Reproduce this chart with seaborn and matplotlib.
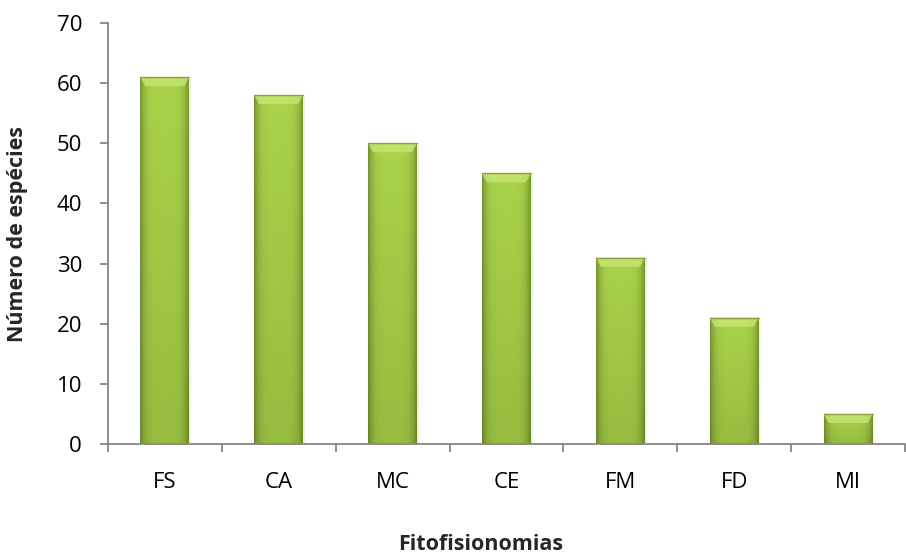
import numpy as np
import pandas as pd
import matplotlib
matplotlib.use("Agg")
import matplotlib.pyplot as plt
from matplotlib.patches import Polygon
from matplotlib.colors import LinearSegmentedColormap
import seaborn as sns

categorias = ["FS", "CA", "MC", "CE", "FM", "FD", "MI"]
especies = [61, 58, 50, 45, 31, 21, 5]
y_ticks = [0, 10, 20, 30, 40, 50, 60, 70]

df = pd.DataFrame({"Fitofisionomias": categorias, "Especies": especies})

sns.set_theme(style="white")
plt.rcParams["font.family"] = ["Open Sans", "DejaVu Sans"]

fig = plt.figure(figsize=(9.06, 5.54), dpi=100)
ax = fig.add_axes([0.119, 0.1986, 0.880, 0.760])

sns.barplot(data=df, x="Fitofisionomias", y="Especies", ax=ax,
            color="#9AC43E", width=0.43, saturation=1, edgecolor="none")

# gradient fill: slightly darker at the sides and bottom, lighter near the top
h = np.linspace(0, 1, 64)
side = 1 - 0.28 * (np.abs(h - 0.5) * 2) ** 5
vert = np.linspace(0.90, 1.0, 64)[:, None]
shade = vert * side[None, :]
cmap = LinearSegmentedColormap.from_list("verde", ["#56701E", "#A9D24A"])

for p in list(ax.patches):
    x0, y0 = p.get_x(), p.get_y()
    w, hgt = p.get_width(), p.get_height()
    # soft shadow to the right
    ax.add_patch(plt.Rectangle((x0 + 0.015, y0), w, hgt, color="#000000",
                               alpha=0.07, zorder=1.5, lw=0))
    im = ax.imshow(shade, cmap=cmap, vmin=0.55, vmax=1.0, aspect="auto",
                   extent=(x0, x0 + w, y0, y0 + hgt), origin="lower",
                   zorder=2, interpolation="bicubic")
    im.set_clip_path(p)
    p.set_zorder(1.9)
    # bevel on the top edge
    bev = min(1.5, hgt * 0.3)
    ins = 0.10 * w
    ax.add_patch(Polygon([(x0, y0 + hgt), (x0 + w, y0 + hgt),
                          (x0 + w - ins, y0 + hgt - bev), (x0 + ins, y0 + hgt - bev)],
                         closed=True, facecolor="#C8E676", edgecolor="none",
                         alpha=0.8, zorder=3))
    ax.plot([x0, x0 + w], [y0 + hgt, y0 + hgt], color="#86A436", lw=1.0, zorder=3.5)

ax.set_ylim(0, 70)
ax.set_xlim(-0.5, len(categorias) - 0.5)
ax.set_yticks(y_ticks)
ax.set_yticklabels([str(v) for v in y_ticks])

for s in ["top", "right"]:
    ax.spines[s].set_visible(False)
for s in ["left", "bottom"]:
    ax.spines[s].set_color("#868686")
    ax.spines[s].set_linewidth(1.3)

ax.set_xticks(np.arange(-0.5, len(categorias), 1), minor=True)
ax.tick_params(axis="x", which="major", length=0, pad=20, labelsize=16, colors="#000000")
ax.tick_params(axis="x", which="minor", length=5.5, width=1.3, color="#868686", direction="out", bottom=True)
ax.tick_params(axis="y", length=5.5, width=1.3, color="#868686", direction="out", left=True,
               labelsize=16, pad=13, labelcolor="#000000")

ax.set_xlabel("")
ax.set_ylabel("")
fig.text(481 / 906, 1 - 544 / 554, "Fitofisionomias", fontsize=15.5, fontweight="bold",
         ha="center", va="center")
fig.text(18 / 906, 1 - 234 / 554, "Número de espécies", fontsize=15.5, fontweight="bold",
         ha="center", va="center", rotation=90)

fig.savefig("out.png", dpi=100)
